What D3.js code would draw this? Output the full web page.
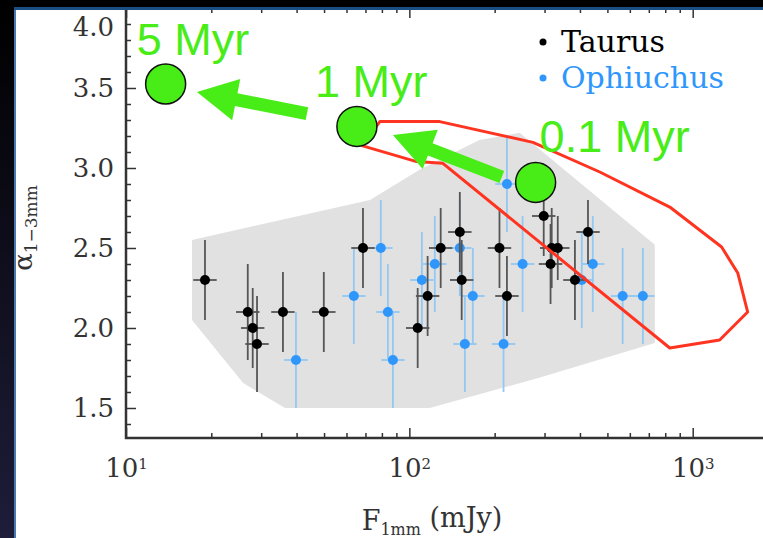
<!DOCTYPE html>
<html>
<head>
<meta charset="utf-8">
<script src="https://cdn.jsdelivr.net/npm/d3@7"></script>
<style>
  html, body { margin: 0; padding: 0; background: #fff; }
  svg { display: block; }
</style>
</head>
<body>
<div id="chart"></div>
<script>
// 1. Data
// Taurus: [F1mm (mJy), alpha, alpha error]
const taurus = [
  [19.0, 2.3, 0.25], [26.9, 2.1, 0.3], [28.0, 2.0, 0.25], [29.0, 1.9, 0.3],
  [35.8, 2.1, 0.25], [49.9, 2.1, 0.25], [68.6, 2.5, 0.25], [107, 2.0, 0.25],
  [116, 2.2, 0.25], [129, 2.5, 0.25], [150.7, 2.6, 0.25], [153, 2.3, 0.25],
  [208, 2.5, 0.25], [221, 2.2, 0.25], [298, 2.7, 0.25], [315, 2.4, 0.25],
  [318, 2.5, 0.25], [334, 2.5, 0.2], [384, 2.3, 0.25], [427, 2.6, 0.2],
];
const ophiuchus = [
  [39.8, 1.8, 0.3], [63.7, 2.2, 0.3], [79.3, 2.5, 0.3], [84, 2.1, 0.3],
  [87.5, 1.8, 0.3], [110.7, 2.3, 0.3], [123, 2.4, 0.3], [150.7, 2.5, 0.3],
  [157, 1.9, 0.3], [167.5, 2.2, 0.3], [215, 1.9, 0.3], [221, 2.9, 0.3],
  [251, 2.4, 0.3], [406, 2.3, 0.3], [444, 2.4, 0.3], [566, 2.2, 0.3],
  [667, 2.2, 0.3],
];
const xErrFrac = 0.1;

// grey region covered by the models
const greyRegion = [
  [17.1, 2.55], [72.6, 2.8], [109, 2.99], [177, 3.175], [245, 3.22],
  [735, 2.52], [735, 1.906], [289, 1.69], [118, 1.5], [36.4, 1.5],
  [25.9, 1.656], [17.1, 2.05],
];
// red track
const redTrack = [
  [68.0, 3.14], [78.7, 3.29], [128, 3.29], [273, 3.16], [470, 2.975],
  [830, 2.756], [1265, 2.506], [1442, 2.344], [1563, 2.1], [1245, 1.925],
  [830, 1.875], [131, 3.03], [106, 3.04], [68.0, 3.14],
];
// model ages
const ageLabels = ["5 Myr", "1 Myr", "0.1 Myr"];
const ageX = [13.8, 65.3, 279];
const ageY = [3.525, 3.26, 2.91];
// arrows [x0, y0, x1(tip), y1(tip)]
const arrows = [
  [212, 2.944, 87.5, 3.206],
  [43.5, 3.34, 17.8, 3.475],
];

const yMajor = [1.5, 2.0, 2.5, 3.0, 3.5, 4.0];
const yMinor = d3.range(14, 41).map((d) => d / 10);
const xMajor = [10, 100, 1000];
const xMajorExp = ["1", "2", "3"];
const xMinor = [20, 30, 40, 50, 60, 70, 80, 90, 200, 300, 400, 500, 600, 700, 800, 900];
const legendNames = ["Taurus", "Ophiuchus"];
const legendColors = ["#000000", "#2f97fb"];

// 2. Dimensions
const dims = {
  width: 763,
  height: 538,
  margin: { top: 8, left: 126 },
  bottom: 438,
  right: 778,
};

const svg = d3
  .select("#chart")
  .append("svg")
  .attr("width", dims.width)
  .attr("height", dims.height);

svg.append("rect").attr("width", dims.width).attr("height", dims.height).attr("fill", "#fff");

// 3. Scales
const xScale = d3.scaleLog().domain([10, 2000]).range([dims.margin.left, dims.right]);
const yScale = d3.scaleLinear().domain([1.3125, 4.0]).range([dims.bottom, dims.margin.top]);

const green = "#48ec16";
const serif = "'DejaVu Serif', serif";

// 4. Draw
svg.append("path")
  .datum(greyRegion)
  .attr("d", d3.line().x((d) => xScale(d[0])).y((d) => yScale(d[1])).curve(d3.curveLinearClosed))
  .attr("fill", "#e1e1e1");

function drawSet(data, color, barColor) {
  const g = svg.append("g");
  data.forEach((d) => {
    g.append("line")
      .attr("x1", xScale(d[0])).attr("x2", xScale(d[0]))
      .attr("y1", yScale(d[1] - d[2])).attr("y2", yScale(d[1] + d[2]))
      .attr("stroke", barColor).attr("stroke-width", 1.8);
    g.append("line")
      .attr("x1", xScale(d[0] / (1 + xErrFrac))).attr("x2", xScale(d[0] * (1 + xErrFrac)))
      .attr("y1", yScale(d[1])).attr("y2", yScale(d[1]))
      .attr("stroke", barColor).attr("stroke-width", 1.8);
  });
  g.selectAll("circle")
    .data(data)
    .join("circle")
    .attr("cx", (d) => xScale(d[0]))
    .attr("cy", (d) => yScale(d[1]))
    .attr("r", 5)
    .attr("fill", color);
}
drawSet(ophiuchus, legendColors[1], "#92c8f2");
drawSet(taurus, legendColors[0], "#555555");

svg.append("path")
  .datum(redTrack)
  .attr("d", d3.line().x((d) => xScale(d[0])).y((d) => yScale(d[1])))
  .attr("fill", "none")
  .attr("stroke", "#ff3420")
  .attr("stroke-width", 3)
  .attr("stroke-linejoin", "round");

// arrows
arrows.forEach((a) => {
  const x0 = xScale(a[0]), y0 = yScale(a[1]);
  const x1 = xScale(a[2]), y1 = yScale(a[3]);
  const len = Math.hypot(x1 - x0, y1 - y0);
  const ux = (x1 - x0) / len, uy = (y1 - y0) / len;
  const px = -uy, py = ux;
  const hl = 40, hw = 21, sw = 6.5;
  const bx = x1 - ux * hl, by = y1 - uy * hl;
  const pts = [
    [x0 + px * sw, y0 + py * sw],
    [bx + px * sw, by + py * sw],
    [bx + px * hw, by + py * hw],
    [x1, y1],
    [bx - px * hw, by - py * hw],
    [bx - px * sw, by - py * sw],
    [x0 - px * sw, y0 - py * sw],
  ];
  svg.append("polygon").attr("points", pts.map((p) => p.join(",")).join(" ")).attr("fill", green);
});

svg.selectAll(".age")
  .data(ageLabels)
  .join("circle")
  .attr("cx", (d, i) => xScale(ageX[i]))
  .attr("cy", (d, i) => yScale(ageY[i]))
  .attr("r", 20)
  .attr("fill", green)
  .attr("stroke", "#111")
  .attr("stroke-width", 1.5);

const ageOffsets = [[-29, -29], [-42, -29], [4, -30]];
svg.selectAll(".ageText")
  .data(ageLabels)
  .join("text")
  .attr("x", (d, i) => xScale(ageX[i]) + ageOffsets[i][0])
  .attr("y", (d, i) => yScale(ageY[i]) + ageOffsets[i][1])
  .attr("fill", green)
  .style("font-family", "'Liberation Sans', Arial, sans-serif")
  .style("font-size", "45px")
  .text((d) => d);

// legend
const legend = svg.append("g").attr("transform", "translate(543,0)");
legendNames.forEach((name, i) => {
  const y = 42 + i * 36;
  legend.append("circle").attr("cx", 0).attr("cy", y).attr("r", 3.5).attr("fill", legendColors[i]);
  legend.append("text")
    .attr("x", 18).attr("y", y + 10)
    .attr("fill", legendColors[i])
    .style("font-family", serif)
    .style("font-size", "30px")
    .text(name);
});

// 5. Axes
function styleAxis(g) {
  g.selectAll(".domain").remove();
  g.selectAll(".tick line").attr("stroke", "#333").attr("stroke-width", 1.5);
  g.selectAll(".tick text")
    .attr("fill", "#333")
    .style("font-family", serif)
    .style("font-size", "26px");
}

const yAxis = svg.append("g")
  .attr("transform", `translate(${dims.margin.left},0)`)
  .call(d3.axisLeft(yScale).tickValues(yMajor).tickFormat(d3.format(".1f")).tickSize(-10).tickPadding(12))
  .call(styleAxis);
yAxis.selectAll(".tick text").filter((d) => d === 4.0).attr("dy", "1.05em");
svg.append("g")
  .attr("transform", `translate(${dims.margin.left},0)`)
  .call(d3.axisLeft(yScale).tickValues(yMinor.filter((d) => !yMajor.includes(d))).tickFormat("").tickSize(-5))
  .call(styleAxis);

const xAxis = svg.append("g")
  .attr("transform", `translate(0,${dims.bottom})`)
  .call(d3.axisBottom(xScale).tickValues(xMajor).tickFormat(() => "").tickSize(-10).tickPadding(16))
  .call(styleAxis);
xAxis.selectAll(".tick text").each(function (d, i) {
  const t = d3.select(this).attr("dy", "0.9em");
  t.append("tspan").text("10");
  t.append("tspan").attr("dy", "-0.55em").style("font-size", "15px").text(xMajorExp[i]);
});
svg.append("g")
  .attr("transform", `translate(0,${dims.bottom})`)
  .call(d3.axisBottom(xScale).tickValues(xMinor).tickFormat("").tickSize(-5))
  .call(styleAxis);
svg.append("g")
  .attr("transform", `translate(0,${dims.margin.top})`)
  .call(d3.axisTop(xScale).tickValues(xMajor).tickFormat("").tickSize(-10))
  .call(styleAxis);
svg.append("g")
  .attr("transform", `translate(0,${dims.margin.top})`)
  .call(d3.axisTop(xScale).tickValues(xMinor).tickFormat("").tickSize(-5))
  .call(styleAxis);

// frame
svg.append("path")
  .attr("d", `M${dims.right},${dims.margin.top}H${dims.margin.left}V${dims.bottom}H${dims.right}`)
  .attr("fill", "none")
  .attr("stroke", "#333")
  .attr("stroke-width", 2.5);

// axis titles
const xTitle = svg.append("text")
  .attr("x", 432).attr("y", 530)
  .attr("text-anchor", "middle")
  .attr("fill", "#333")
  .style("font-family", serif)
  .style("font-size", "27px");
xTitle.append("tspan").text("F");
xTitle.append("tspan").attr("dy", "0.3em").style("font-size", "16px").text("1mm");
xTitle.append("tspan").attr("dy", "-0.3em").text(" (mJy)");

const yTitle = svg.append("text")
  .attr("transform", "translate(32,228) rotate(-90)")
  .attr("text-anchor", "middle")
  .attr("fill", "#333")
  .style("font-family", serif)
  .style("font-size", "26px");
yTitle.append("tspan").text("α");
yTitle.append("tspan").attr("dy", "0.3em").style("font-size", "17px").text("1−3mm");

// slide border
const grad = svg.append("defs").append("linearGradient")
  .attr("id", "side").attr("x1", 0).attr("y1", 0).attr("x2", 0).attr("y2", 1);
grad.append("stop").attr("offset", "0%").attr("stop-color", "#000");
grad.append("stop").attr("offset", "100%").attr("stop-color", "#1e1d3a");
svg.append("rect").attr("x", 0).attr("y", 0).attr("width", 14).attr("height", dims.height).attr("fill", "url(#side)");
svg.append("rect").attr("x", 14).attr("y", 8).attr("width", 2).attr("height", dims.height).attr("fill", "#4a78b0");
svg.append("rect").attr("x", 0).attr("y", 0).attr("width", dims.width).attr("height", 8).attr("fill", "#000");
svg.append("rect").attr("x", 14).attr("y", 7).attr("width", dims.width).attr("height", 3).attr("fill", "#1b4f84");
</script>
</body>
</html>
